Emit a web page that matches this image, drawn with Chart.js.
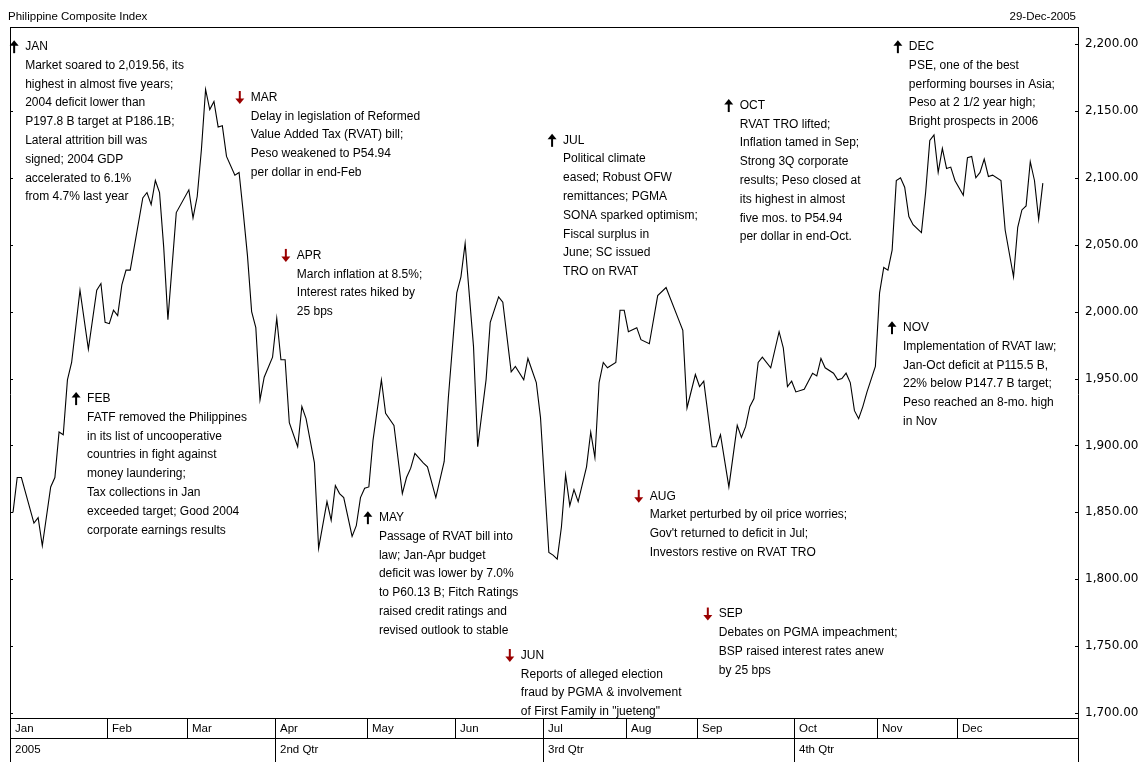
<!DOCTYPE html>
<html>
<head>
<meta charset="utf-8">
<script src="https://cdn.jsdelivr.net/npm/chart.js@4.4.1/dist/chart.umd.min.js"></script>
<style>
  html, body { margin: 0; padding: 0; background: #fff; }
  canvas { display: block; }
</style>
</head>
<body>
<canvas id="psei" width="1143" height="762"></canvas>
<script>
// trading-day index in 2005 (0 = first session) and closing level
const tradingDay = [
  0,1,2,5,6,7,9,10,11,12,13,14,16,18,20,21,22,23,24,25,26,27,28,
  31,32,33,34,35,36,37,39,42,43,44,45,46,47,48,49,50,51,53,54,55,56,57,58,
  59,60,62,63,64,65,66,68,69,70,72,73,75,76,77,78,79,81,82,83,84,85,86,88,89,91,93,94,95,96,98,99,
  101,103,104,106,107,108,110,111,113,114,116,117,119,120,122,123,125,126,128,129,130,131,132,133,134,135,137,138,139,140,141,142,144,145,146,
  147,149,150,152,154,156,159,160,161,163,164,165,167,168,169,171,173,174,175,176,177,178,179,181,183,184,185,186,187,189,191,192,193,194,196,197,198,199,200,201,202,203,204,206,
  207,208,209,210,211,212,213,214,215,217,218,219,220,221,222,223,224,225,227,228,229,230,231,232,233,234,236,237,239,240,241,242,243,244,245,246
];
const closeLevel = [
  1850,1876,1876,1842,1846,1825,1869,1876,1910,1908,1949,1962,2016,1972,2016,2021,1992,1991,2001,1997,2020,2031,2031,
  2085,2089,2080,2098,2089,2048,1994,2074,2091,2070,2086,2121,2166,2151,2157,2138,2139,2116,2102,2104,2074,2042,2000,1988,
  1934,1951,1966,1995,1964,1964,1917,1899,1929,1920,1887,1823,1858,1844,1870,1864,1861,1832,1840,1861,1868,1869,1904,1949,1924,1915,1864,1876,1883,1894,1887,1884,
  1861,1888,1936,2014,2026,2051,1974,1899,1949,1992,2011,2007,1955,1959,1949,1965,1947,1921,1820,1818,1815,1839,1878,1855,1867,1858,1884,1910,1891,1947,1962,1958,1962,2001,2001,
  1985,1988,1979,1976,2012,2018,1994,1986,1928,1953,1944,1948,1899,1899,1908,1869,1915,1906,1914,1929,1935,1962,1966,1958,1985,1973,1944,1948,1940,1942,1954,1952,1965,1958,1954,1949,1950,1954,1947,1926,1920,1929,1940,1959,
  2014,2033,2031,2046,2098,2100,2093,2071,2065,2059,2089,2128,2132,2104,2122,2107,2108,2098,2087,2115,2116,2100,2104,2114,2101,2102,2098,2061,2026,2063,2076,2079,2112,2098,2069,2096
];

const yTicks = [1700, 1750, 1800, 1850, 1900, 1950, 2000, 2050, 2100, 2150, 2200];
const months = ['Jan','Feb','Mar','Apr','May','Jun','Jul','Aug','Sep','Oct','Nov','Dec'];
const monthStart = [0, 23, 42, 63, 85, 106, 127, 147, 164, 187, 207, 226];
const quarters = ['2005', '2nd Qtr', '3rd Qtr', '4th Qtr'];
const quarterStart = [0, 63, 127, 187];

const chartTitle = 'Philippine Composite Index';
const lastDate = '29-Dec-2005';

// news notes: anchored at (trading day, index level) of the heading line
const notes = [
  { day: 2.9, level: 2198, up: true, head: 'JAN', lines: ['Market soared to 2,019.56, its', 'highest in almost five years;', '2004 deficit lower than', 'P197.8 B target at P186.1B;', 'Lateral attrition bill was', 'signed; 2004 GDP', 'accelerated to 6.1%', 'from 4.7% last year'] },
  { day: 17.7, level: 1935, up: true, head: 'FEB', lines: ['FATF removed the Philippines', 'in its list of uncooperative', 'countries in fight against', 'money laundering;', 'Tax collections in Jan', 'exceeded target; Good 2004', 'corporate earnings results'] },
  { day: 56.8, level: 2160, up: false, head: 'MAR', lines: ['Delay in legislation of Reformed', 'Value Added Tax (RVAT) bill;', 'Peso weakened to P54.94', 'per dollar in end-Feb'] },
  { day: 67.8, level: 2042, up: false, head: 'APR', lines: ['March inflation at 8.5%;', 'Interest rates hiked by', '25 bps'] },
  { day: 87.4, level: 1846, up: true, head: 'MAY', lines: ['Passage of RVAT bill into', 'law; Jan-Apr budget', 'deficit was lower by 7.0%', 'to P60.13 B; Fitch Ratings', 'raised credit ratings and', 'revised outlook to stable'] },
  { day: 121.3, level: 1743, up: false, head: 'JUN', lines: ['Reports of alleged election', 'fraud by PGMA & involvement', 'of First Family in "jueteng"'] },
  { day: 131.4, level: 2128, up: true, head: 'JUL', lines: ['Political climate', 'eased; Robust OFW', 'remittances; PGMA', 'SONA sparked optimism;', 'Fiscal surplus in', 'June; SC issued', 'TRO on RVAT'] },
  { day: 152.1, level: 1862, up: false, head: 'AUG', lines: ['Market perturbed by oil price worries;', "Gov't returned to deficit in Jul;", 'Investors restive on RVAT TRO'] },
  { day: 168.6, level: 1774, up: false, head: 'SEP', lines: ['Debates on PGMA impeachment;', 'BSP raised interest rates anew', 'by 25 bps'] },
  { day: 173.6, level: 2154, up: true, head: 'OCT', lines: ['RVAT TRO lifted;', 'Inflation tamed in Sep;', 'Strong 3Q corporate', 'results; Peso closed at', 'its highest in almost', 'five mos. to P54.94', 'per dollar in end-Oct.'] },
  { day: 212.6, level: 1988, up: true, head: 'NOV', lines: ['Implementation of RVAT law;', 'Jan-Oct deficit at P115.5 B,', '22% below P147.7 B target;', 'Peso reached an 8-mo. high', 'in Nov'] },
  { day: 214.0, level: 2198, up: true, head: 'DEC', lines: ['PSE, one of the best', 'performing bourses in Asia;', 'Peso at 2 1/2 year high;', 'Bright prospects in 2006'] },
];

const FONT = '"Liberation Sans", Arial, sans-serif';

function drawArrow(ctx, x, y, up) {
  ctx.save();
  ctx.fillStyle = up ? '#000' : '#9a0000';
  ctx.strokeStyle = ctx.fillStyle;
  const s = up ? 1 : -1;
  ctx.lineWidth = 2;
  ctx.beginPath();
  ctx.moveTo(x, y - 2 * s);
  ctx.lineTo(x, y + 6.5 * s);
  ctx.stroke();
  ctx.beginPath();
  ctx.moveTo(x - 4.5, y - 1 * s);
  ctx.lineTo(x + 4.5, y - 1 * s);
  ctx.lineTo(x, y - 6.5 * s);
  ctx.closePath();
  ctx.fill();
  ctx.restore();
}

const framePlugin = {
  id: 'frame',
  afterDraw(chart) {
    const { ctx, chartArea: a, scales: { x, y } } = chart;
    const H = chart.height;
    const rowMid = a.bottom + 20;
    ctx.save();
    ctx.strokeStyle = '#000';
    ctx.lineWidth = 1;
    ctx.fillStyle = '#000';

    // header texts
    ctx.font = '11.5px ' + FONT;
    ctx.textBaseline = 'middle';
    ctx.textAlign = 'left';
    ctx.fillText(chartTitle, 8, 17);
    ctx.textAlign = 'right';
    ctx.fillText(lastDate, a.right - 2, 17);

    // frame
    ctx.beginPath();
    ctx.moveTo(a.left, a.top + 0.5); ctx.lineTo(a.right, a.top + 0.5);
    ctx.moveTo(a.left + 0.5, a.top); ctx.lineTo(a.left + 0.5, H);
    ctx.moveTo(a.right + 0.5, a.top); ctx.lineTo(a.right + 0.5, H);
    ctx.moveTo(a.left, a.bottom + 0.5); ctx.lineTo(a.right, a.bottom + 0.5);
    ctx.moveTo(a.left, rowMid + 0.5); ctx.lineTo(a.right, rowMid + 0.5);
    ctx.stroke();

    // small inside ticks on both borders
    ctx.beginPath();
    yTicks.forEach(v => {
      const py = Math.round(y.getPixelForValue(v)) + 0.5;
      ctx.moveTo(a.left, py); ctx.lineTo(a.left + 3, py);
      ctx.moveTo(a.right - 3, py); ctx.lineTo(a.right, py);
    });
    ctx.stroke();

    // month and quarter rows
    ctx.font = '11.5px ' + FONT;
    ctx.textAlign = 'left';
    months.forEach((m, i) => {
      const px = i === 0 ? a.left : Math.round(x.getPixelForValue(monthStart[i] - 0.5));
      if (i > 0) {
        ctx.beginPath();
        ctx.moveTo(px + 0.5, a.bottom); ctx.lineTo(px + 0.5, rowMid);
        ctx.stroke();
      }
      ctx.fillText(m, px + 5, a.bottom + 11);
    });
    quarters.forEach((q, i) => {
      const px = i === 0 ? a.left : Math.round(x.getPixelForValue(quarterStart[i] - 0.5));
      if (i > 0) {
        ctx.beginPath();
        ctx.moveTo(px + 0.5, rowMid); ctx.lineTo(px + 0.5, H);
        ctx.stroke();
      }
      ctx.fillText(q, px + 5, rowMid + 12);
    });

    // notes
    ctx.font = '12px ' + FONT;
    notes.forEach(n => {
      const tx = x.getPixelForValue(n.day);
      const ty = y.getPixelForValue(n.level);
      drawArrow(ctx, tx - 11, ty, n.up);
      ctx.fillStyle = '#000';
      ctx.fillText(n.head, tx, ty);
      n.lines.forEach((l, i) => ctx.fillText(l, tx, ty + 18.8 * (i + 1)));
    });
    ctx.restore();
  }
};

new Chart(document.getElementById('psei'), {
  type: 'line',
  data: {
    datasets: [{
      data: tradingDay.map((d, i) => ({ x: d, y: closeLevel[i] })),
      borderColor: '#000',
      borderWidth: 1.1,
      pointRadius: 0,
      tension: 0,
      fill: false,
    }]
  },
  options: {
    responsive: false,
    animation: false,
    devicePixelRatio: 1,
    layout: { padding: { left: 10, top: 27, right: 0, bottom: 44 } },
    plugins: { legend: { display: false }, tooltip: { enabled: false } },
    scales: {
      x: { type: 'linear', min: -0.72, max: 254.4, display: false },
      y: {
        position: 'right',
        min: 1696.3, max: 2212.7,
        afterBuildTicks: s => { s.ticks = yTicks.map(v => ({ value: v })); },
        afterFit: s => { s.width = 65; },
        grid: { drawOnChartArea: false, drawTicks: false },
        border: { display: false },
        ticks: {
          padding: 7,
          color: '#000',
          font: { family: 'DejaVu Sans', size: 12 },
          callback: v => v.toLocaleString('en-US', { minimumFractionDigits: 2, maximumFractionDigits: 2 })
        }
      }
    }
  },
  plugins: [framePlugin]
});
</script>
</body>
</html>
